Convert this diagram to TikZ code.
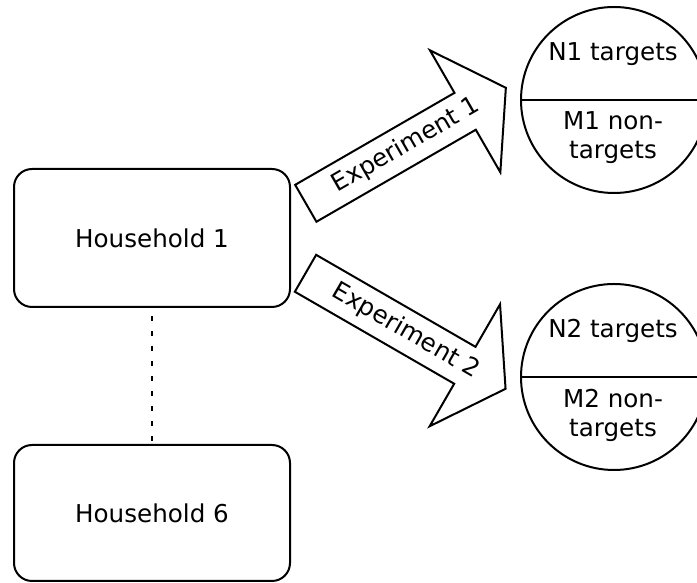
\documentclass[tikz,border=0pt]{standalone}
\usepackage{fontspec}
\setmainfont{DejaVu Sans}
\begin{document}
\begin{tikzpicture}[x=1pt,y=1pt,
  every node/.style={font=\fontsize{24.6}{29}\selectfont, inner sep=0pt},
  house/.style={draw, line width=2pt, rounded corners=18pt,
                minimum width=276pt, minimum height=138pt},
  pool/.style={draw, circle, line width=2pt, minimum size=186pt},
  fatarrow/.style={draw, line width=2pt, line join=miter, fill=white},
  link/.style={line width=2pt, dash pattern=on 5.5pt off 9.5pt, dash phase=7pt},
  split/.style={line width=2pt}]
\useasboundingbox (0,0) rectangle (697,583);
\clip (0,0) rectangle (697,583);

% households
\node[house] (h1) at (152,345) {Household 1};
\node[house, minimum height=136pt] (h6) at (152,70) {Household 6};
\draw[link] (h1.south) -- (h6.north);

% target pools
\node[pool] (c1) at (614,483) {};
\node[pool] (c2) at (614,206) {};
\draw[split] (c1.west) -- (c1.east);
\draw[split] (c2.west) -- (c2.east);
\node[anchor=base] (n1) at (613,522) {N1 targets};
\node[align=center] (m1) at (613,445) {M1 non-\\targets};
\node[anchor=base] (n2) at (613,245) {N2 targets};
\node[align=center] (m2) at (613,168) {M2 non-\\targets};

% experiment arrows
\begin{scope}[shift={(305.8,379.7)}, rotate=30]
  \draw[fatarrow] (0,21.3) -- (184,21.3) -- (184,70.4) -- (231,0)
        -- (184,-70.4) -- (184,-21.3) -- (0,-21.3) -- cycle;
  \node[transform shape] (e1) at (116,0) {Experiment 1};
\end{scope}
\begin{scope}[shift={(305.5,309.7)}, rotate=-30]
  \draw[fatarrow] (0,21.3) -- (184,21.3) -- (184,70.4) -- (231,0)
        -- (184,-70.4) -- (184,-21.3) -- (0,-21.3) -- cycle;
  \node[transform shape] (e2) at (116,0) {Experiment 2};
\end{scope}
\end{tikzpicture}
\end{document}
